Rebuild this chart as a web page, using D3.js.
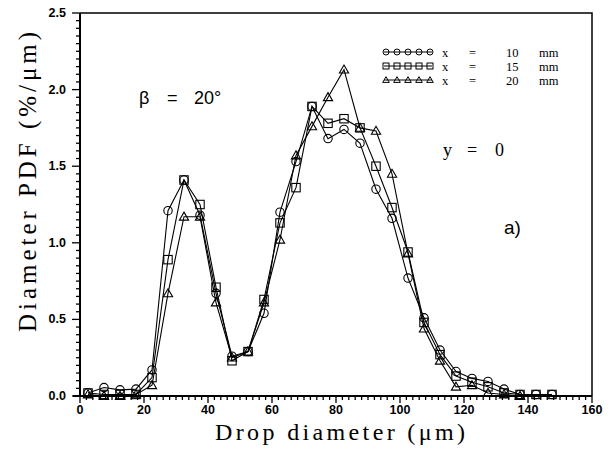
<!DOCTYPE html>
<html>
<head>
<meta charset="utf-8">
<title>Diameter PDF</title>
<script src="https://cdn.jsdelivr.net/npm/d3@7"></script>
<style>
body { margin: 0; background: #fff; }
svg text { fill: #000; }
.tick-lab { font-family: "Liberation Sans", sans-serif; font-weight: bold; font-size: 12.5px; }
.serif { font-family: "Liberation Serif", serif; }
</style>
</head>
<body>
<script>
// bin centres (um)
var diam = [2.5, 7.5, 12.5, 17.5, 22.5, 27.5, 32.5, 37.5, 42.5, 47.5, 52.5, 57.5, 62.5, 67.5, 72.5,
            77.5, 82.5, 87.5, 92.5, 97.5, 102.5, 107.5, 112.5, 117.5, 122.5, 127.5, 132.5, 137.5, 142.5, 147.5];

var pdf10 = [0.02, 0.055, 0.04, 0.045, 0.17, 1.21, 1.41, 1.18, 0.67, 0.26, 0.29, 0.54, 1.20, 1.53, 1.89,
             1.68, 1.74, 1.65, 1.35, 1.16, 0.77, 0.51, 0.30, 0.16, 0.115, 0.095, 0.045, 0.01, 0.01, 0.01];
var pdf15 = [0.02, 0.01, 0.01, 0.01, 0.12, 0.89, 1.41, 1.25, 0.71, 0.23, 0.29, 0.63, 1.13, 1.36, 1.89,
             1.78, 1.81, 1.75, 1.50, 1.23, 0.94, 0.48, 0.27, 0.13, 0.09, 0.06, 0.02, 0.01, 0.01, 0.01];
var pdf20 = [0.01, 0.0, 0.0, 0.01, 0.07, 0.67, 1.17, 1.17, 0.61, 0.25, 0.29, 0.61, 1.02, 1.57, 1.76,
             1.95, 2.13, 1.75, 1.73, 1.45, 0.93, 0.44, 0.23, 0.06, 0.07, 0.02, 0.01, 0.0];

var seriesLabels = ["10", "15", "20"];
var seriesShapes = ["circle", "square", "triangle"];
var seriesData = [pdf10, pdf15, pdf20];

var xTicks = [0, 20, 40, 60, 80, 100, 120, 140, 160];
var yTicks = [0, 0.5, 1.0, 1.5, 2.0, 2.5];

var width = 614, height = 451;
var m = {left: 80, right: 22, top: 13, bottom: 55};

var svg = d3.select("body").append("svg")
  .attr("width", width)
  .attr("height", height);

var x = d3.scaleLinear().domain([0, 160]).range([m.left, width - m.right]);
var y = d3.scaleLinear().domain([0, 2.5]).range([height - m.bottom, m.top]);

// frame: top + right
svg.append("path")
  .attr("d", "M" + x(0) + "," + y(2.5) + "H" + x(160) + "V" + y(0))
  .attr("fill", "none").attr("stroke", "#000").attr("stroke-width", 1.5);

// x axis
var xAxis = svg.append("g").attr("transform", "translate(0," + y(0) + ")");
xAxis.append("line").attr("x1", x(0) - 7).attr("x2", x(160)).attr("stroke", "#000").attr("stroke-width", 2);
xAxis.selectAll("line.minor").data(d3.range(0, 161, 2)).enter().append("line")
  .attr("x1", function(d) { return x(d); }).attr("x2", function(d) { return x(d); })
  .attr("y1", 0).attr("y2", function(d) { return d % 20 === 0 ? 7 : 4; })
  .attr("stroke", "#000").attr("stroke-width", 1.3);
xAxis.selectAll("text").data(xTicks).enter().append("text")
  .attr("class", "tick-lab")
  .attr("x", function(d) { return x(d); }).attr("y", 18)
  .attr("text-anchor", "middle")
  .text(function(d) { return d; });

// y axis
var yAxis = svg.append("g").attr("transform", "translate(" + x(0) + ",0)");
yAxis.append("line").attr("y1", y(0)).attr("y2", y(2.5)).attr("stroke", "#000").attr("stroke-width", 2);
yAxis.selectAll("line.minor").data(d3.range(0, 51)).enter().append("line")
  .attr("y1", function(d) { return y(d * 0.05); }).attr("y2", function(d) { return y(d * 0.05); })
  .attr("x1", 0).attr("x2", function(d) { return d % 10 === 0 ? -8 : -4; })
  .attr("stroke", "#000").attr("stroke-width", 1.3);
yAxis.selectAll("text").data(yTicks).enter().append("text")
  .attr("class", "tick-lab")
  .attr("x", -14).attr("y", function(d) { return y(d) + 4; })
  .attr("text-anchor", "end")
  .text(function(d) { return d.toFixed(1); });

// axis titles
svg.append("text").attr("class", "serif")
  .attr("x", 340).attr("y", 440)
  .attr("text-anchor", "middle").attr("font-size", 24)
  .attr("textLength", 250).attr("lengthAdjust", "spacing")
  .text("Drop diameter (μm)");
svg.append("text").attr("class", "serif")
  .attr("transform", "translate(36,182) rotate(-90)")
  .attr("text-anchor", "middle").attr("font-size", 25)
  .attr("textLength", 300).attr("lengthAdjust", "spacing")
  .text("Diameter PDF (%/μm)");

// markers
function marker(sel, shape, s) {
  if (shape === "circle") {
    sel.append("circle").attr("r", s);
  } else if (shape === "square") {
    sel.append("rect").attr("x", -s).attr("y", -s).attr("width", 2 * s).attr("height", 2 * s);
  } else {
    sel.append("path").attr("d", "M0," + (-s * 1.1) + "L" + (s * 1.1) + "," + (s * 0.8) + "L" + (-s * 1.1) + "," + (s * 0.8) + "Z");
  }
}

var line = d3.line()
  .x(function(d) { return x(d[0]); })
  .y(function(d) { return y(d[1]); });

seriesData.forEach(function(vals, i) {
  var pts = vals.map(function(v, j) { return [diam[j], v]; });
  svg.append("path").datum(pts)
    .attr("d", line)
    .attr("fill", "none").attr("stroke", "#000").attr("stroke-width", 1.1);
  var g = svg.append("g").attr("fill", "none").attr("stroke", "#000").attr("stroke-width", 1.1);
  pts.forEach(function(p) {
    var mg = g.append("g").attr("transform", "translate(" + x(p[0]) + "," + y(p[1]) + ")");
    marker(mg, seriesShapes[i], 4.2);
  });
});

// spaced-out words, typewriter style
function spaced(sel, words, xs) {
  words.forEach(function(w, k) {
    sel.append("tspan").attr("x", xs[k]).text(w);
  });
}

// legend
var leg = svg.append("g");
seriesLabels.forEach(function(lab, i) {
  var ly = 52 + i * 14;
  var row = leg.append("g").attr("fill", "none").attr("stroke", "#000").attr("stroke-width", 1);
  row.append("line").attr("x1", 384).attr("x2", 432).attr("y1", ly).attr("y2", ly);
  d3.range(5).forEach(function(k) {
    var mg = row.append("g").attr("transform", "translate(" + (386 + k * 11) + "," + ly + ")");
    marker(mg, seriesShapes[i], 3);
  });
  var t = leg.append("text").attr("class", "serif")
    .attr("y", ly + 4.5)
    .attr("font-size", 12.5);
  spaced(t, ["x", "=", lab, "mm"], [442, 469, 506, 539]);
});

// annotations
var tb = svg.append("text")
  .attr("y", 104)
  .attr("font-family", "Liberation Sans, sans-serif").attr("font-size", 18);
spaced(tb, ["β", "=", "20°"], [139, 167, 194]);

var ty = svg.append("text").attr("class", "serif")
  .attr("y", 156)
  .attr("font-size", 18);
spaced(ty, ["y", "=", "0"], [443, 467, 495]);

svg.append("text")
  .attr("x", 504).attr("y", 234)
  .attr("font-family", "Liberation Sans, sans-serif").attr("font-size", 19)
  .text("a)");
</script>
</body>
</html>
